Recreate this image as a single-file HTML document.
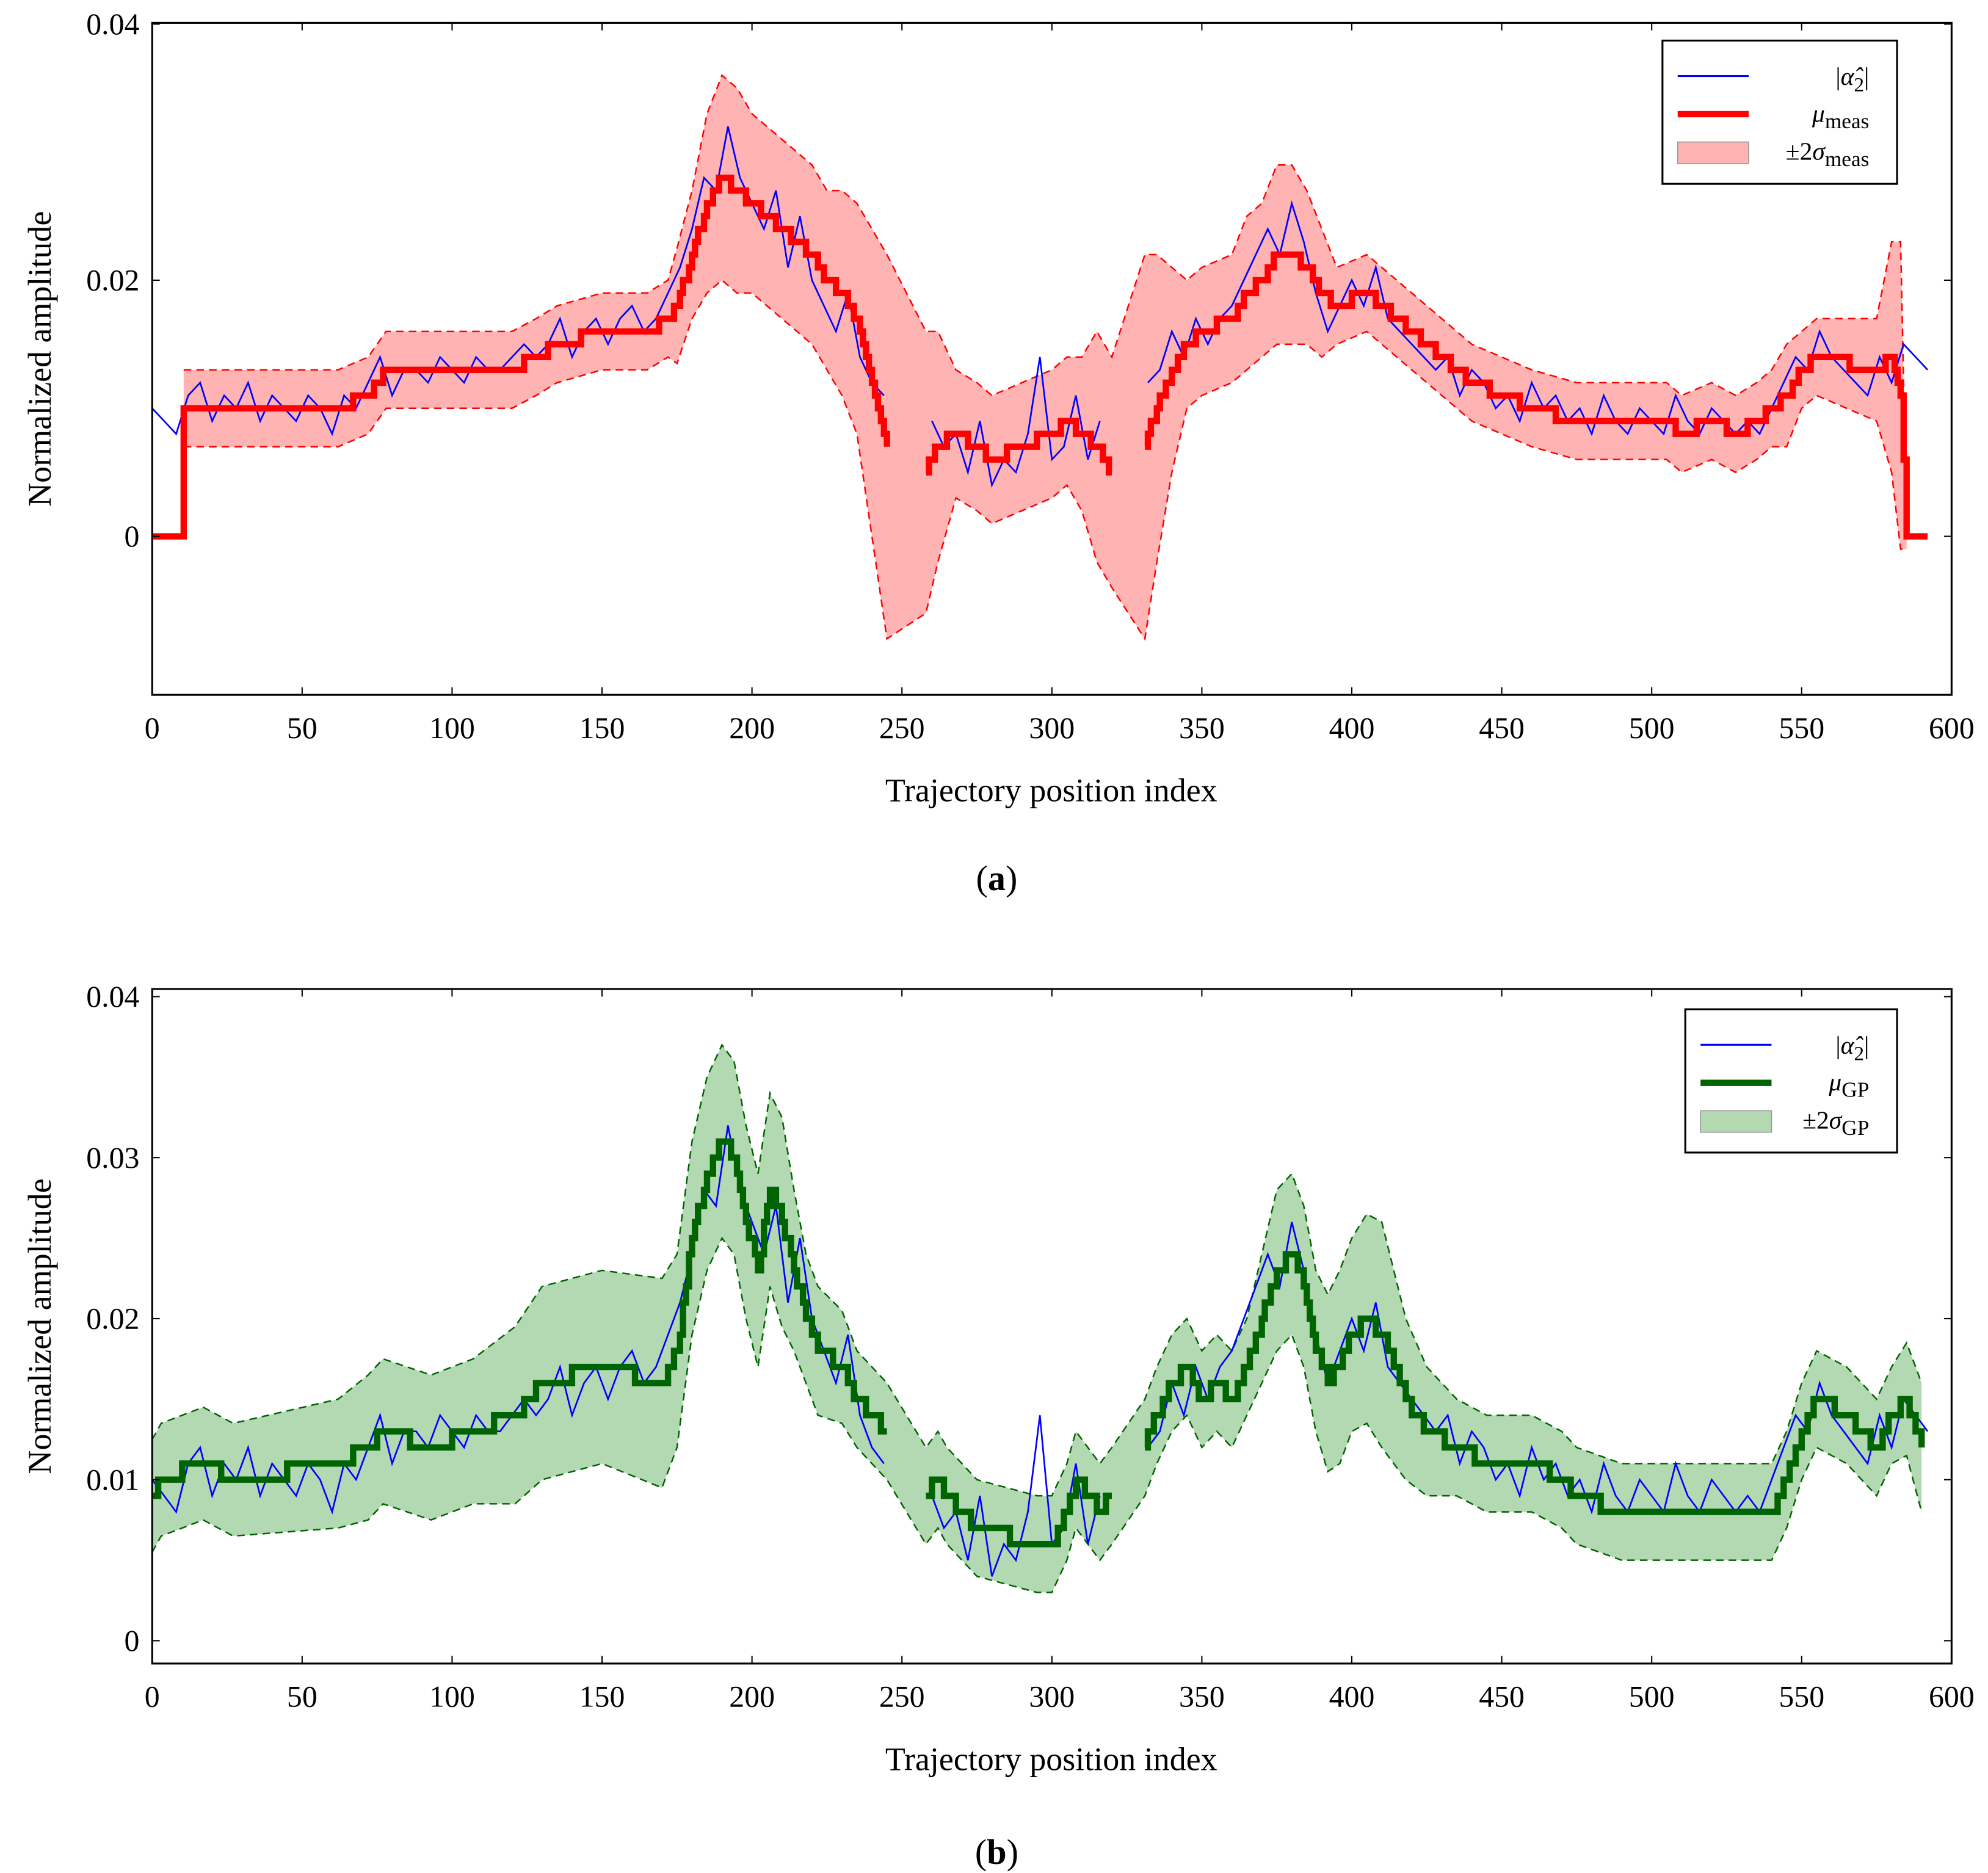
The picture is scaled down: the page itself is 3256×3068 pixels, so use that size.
<!DOCTYPE html>
<html><head><meta charset="utf-8"><style>
html,body{margin:0;padding:0;background:#fff}
svg{display:block}
text{font-family:"Liberation Serif",serif;fill:#000}
</style></head><body>
<svg id="chart" width="3256" height="3068" viewBox="0 0 1567.7 1477.2" xmlns="http://www.w3.org/2000/svg"></svg>
<script>
const xTicks=[0,50,100,150,200,250,300,350,400,450,500,550,600];
const yTicksA=[0,0.02,0.04];
const yTickLabelsA=["0","0.02","0.04"];
const yTicksB=[0,0.01,0.02,0.03,0.04];
const yTickLabelsB=["0","0.01","0.02","0.03","0.04"];
// blue measured signal |alpha_2| (x1e-3), sampled every 4 indices from 0
const blueX=[];for(let i=0;i<=148;i++)blueX.push(i*4);
const blueY=[10,9,8,11,12,9,11,10,12,9,11,10,9,11,10,8,11,10,12,14,11,13,13,12,14,13,12,14,13,13,14,15,14,15,17,14,16,17,15,17,18,16,17,19,21,24,28,27,32,28,26,24,27,21,25,20,18,16,19,14,12,11,null,null,null,9,7,8,5,9,4,6,5,8,14,6,7,11,6,9,null,null,null,12,13,16,14,17,15,17,18,20,22,24,22,26,23,19,16,18,20,18,21,17,16,15,14,13,14,11,13,12,10,11,9,12,10,11,9,10,8,11,9,8,10,9,8,11,9,8,10,9,8,9,8,10,12,14,13,16,14,13,12,11,14,12,15,14,13];
// panel a: mu_meas and 2-sigma half width (x1e-3)
const measX=[0,10,10.5,62,72,75,78,120,128,135,150,165,172,175,180,185,190,195,200,205,210,215,220,225,230,235,240,245,null,258,262,268,275,280,290,300,305,310,315,320,null,331,335,340,345,350,360,365,370,375,380,385,390,395,405,410,415,420,425,430,440,450,460,475,505,510,520,528,535,540,545,550,555,575,580,583,585,592];
const measY=[0,0,10,10,11,12,13,13,14,15,16,16,17,18,22,26,28,27,26,25,24,23,22,20,19,17,12,7,null,5,7,8,7,6,7,8,9,8,7,5,null,7,10,13,15,16,17,19,20,22,22,21,19,18,19,18,17,16,15,14,12,11,10,9,9,8,9,8,9,10,11,13,14,13,14,11,0,0];
const measBand=[null,null,3,3,3,3,3,3,3,3,3,3,3,4.5,5,7,8,8,7,7,7,7,7,7,8,9,12,15,null,11,9,5,5,5,5,5,5,6,9,9,null,15,12,8,5,5,5,6,6,7,7,6,5,3,3,3,3,3,3,3,3,3,3,3,3,3,3,3,3,3,4,3,3,4,9,12,1,null];
// panel b: mu_GP and 2-sigma half width (x1e-3)
const gpX=[0,3,17,27,62,72,77,93,107,121,130,150,170,175,180,185,190,194,198,202,206,210,214,218,222,230,235,240,245,null,258,262,265,270,275,295,300,305,308,312,316,320,null,331,335,340,345,350,355,360,365,370,375,380,384,388,392,396,400,405,410,414,418,425,435,445,460,470,475,490,510,525,540,545,550,555,565,570,575,580,585,590];
const gpY=[9,10,11,10,11,12,13,12,13,14,16,17,16,18,25,29,31,30,26,23,28,26,23,20,18,17,15,14,13,null,9,10,9,8,7,6,6,8,10,9,8,9,null,12,14,16,17,15,16,15,17,20,23,24,22,18,16,17,19,20,19,17,15,13,12,11,11,10,9,8,8,8,8,10,13,15,14,13,12,14,15,12];
const gpBand=[3.5,3.5,3.5,3.5,4,4.5,4.5,4.5,4.5,5.5,6,6,6.5,6,6,6,6,6,6,6,6,6.5,5,4,4,3.5,3,3,3,null,3,3,3,3,3,3,3,3,3,3,3,3,null,3,3,3,3,3,3,3,3,4,5,5,5,5,5.5,6,6,6.5,7,6,5,4,3,3,3,3,3,3,3,3,3,3,3,3,3,3,3,3,3.5,4];

const NS="http://www.w3.org/2000/svg";
const svg=document.getElementById('chart');
function el(tag,attrs,parent){const e=document.createElementNS(NS,tag);for(const k in attrs)e.setAttribute(k,attrs[k]);(parent||svg).appendChild(e);return e;}
function segs(xs,ys){const out=[];let cur=[];for(let i=0;i<xs.length;i++){if(xs[i]===null||ys[i]===null){if(cur.length)out.push(cur);cur=[];}else cur.push([xs[i],ys[i]]);}if(cur.length)out.push(cur);return out;}
// stair rendering: quantize to 0.001 levels per index step
function stair(s){const pts=[];for(let i=0;i<s.length-1;i++){const [x0,y0]=s[i],[x1,y1]=s[i+1];const n=Math.max(1,Math.round(x1-x0));let prev=null;for(let k=0;k<n;k++){const x=x0+(x1-x0)*k/n;const y=Math.round(y0+(y1-y0)*k/n);if(prev!==null&&prev!==y)pts.push([x,prev]);pts.push([x,y]);prev=y;}const yl=Math.round(y1);if(prev!==yl)pts.push([x1,prev]);}pts.push(s[s.length-1]);return pts;}

function panel(cfg){
  const g=el('g',{});
  
  
  const L=120,R=1539,T=cfg.top,B=cfg.bottom;
  const sx=v=>L+(v-0)/600*(R-L);
  const sy=v=>cfg.y0+(cfg.y1-cfg.y0)*(v/cfg.ymax);
  const cp=el('clipPath',{id:'clip'+cfg.id},g);el('rect',{x:L,y:T,width:R-L,height:B-T},cp);
  const plot=el('g',{'clip-path':'url(#clip'+cfg.id+')'},g);
  const bx=[],bu=[],bl=[];
  for(let i=0;i<cfg.mx.length;i++){if(cfg.mx[i]===null||cfg.band[i]===null||cfg.my[i]===null)continue;bx.push(cfg.mx[i]);bu.push(cfg.my[i]+cfg.band[i]);bl.push(cfg.my[i]-cfg.band[i]);}
  let d='';bx.forEach((x,i)=>{d+=(i?'L':'M')+sx(x)+','+sy(bu[i]/1000);});
  for(let i=bx.length-1;i>=0;i--)d+='L'+sx(bx[i])+','+sy(bl[i]/1000);
  const band=el('path',{d:d+'Z',fill:cfg.fill,stroke:'none'},plot);
  
  
  const pu=el('polyline',{points:bx.map((x,i)=>sx(x)+','+sy(bu[i]/1000)).join(' '),fill:'none',stroke:cfg.dash,'stroke-width':1.2,'stroke-dasharray':'6,4'},plot);
  
  
  const pl=el('polyline',{points:bx.map((x,i)=>sx(x)+','+sy(bl[i]/1000)).join(' '),fill:'none',stroke:cfg.dash,'stroke-width':1.2,'stroke-dasharray':'6,4'},plot);
  
  
  segs(blueX,blueY).forEach(s=>{const p=el('polyline',{points:s.map(q=>sx(q[0])+','+sy(q[1]/1000)).join(' '),fill:'none',stroke:'#0000ff','stroke-width':1.3},plot);
    
    });
  segs(cfg.mx,cfg.my).forEach(s=>{const p=el('polyline',{points:stair(s).map(q=>sx(q[0])+','+sy(q[1]/1000)).join(' '),fill:'none',stroke:cfg.line,'stroke-width':5,'stroke-linejoin':'miter'},plot);
    
    });
  el('rect',{x:L,y:T,width:R-L,height:B-T,fill:'none',stroke:'#000','stroke-width':1.5},g);
  xTicks.forEach(v=>{const x=sx(v);el('line',{x1:x,y1:B,x2:x,y2:B-6,stroke:'#000'},g);el('line',{x1:x,y1:T,x2:x,y2:T+6,stroke:'#000'},g);
    const t=el('text',{x:x,y:B+34,'font-size':24,'text-anchor':'middle'},g);t.textContent=v;
    
    });
  cfg.yt.forEach((v,i)=>{const y=sy(v);el('line',{x1:L,y1:y,x2:L+6,y2:y,stroke:'#000'},g);el('line',{x1:R,y1:y,x2:R-6,y2:y,stroke:'#000'},g);
    const t=el('text',{x:L-10,y:y+8,'font-size':24,'text-anchor':'end'},g);t.textContent=cfg.ytl[i];
    
    });
  const xt=el('text',{x:829,y:B+84,'font-size':26,'text-anchor':'middle'},g);xt.textContent='Trajectory position index';
  
  
  const yc=(T+B)/2;
  const yt=el('text',{x:40,y:yc,'font-size':26,'text-anchor':'middle',transform:'rotate(-90 40 '+yc+')'},g);yt.textContent='Normalized amplitude';
  
  
  const cap=el('text',{x:786,y:cfg.cap,'font-size':28,'text-anchor':'middle'},g);
  cap.innerHTML='(<tspan font-weight="bold">'+cfg.id+'</tspan>)';
  
  
  const lg=el('g',{},g);
  
  
  const lx=cfg.lx,ly=cfg.ly;
  el('rect',{x:lx,y:ly,width:1496-lx,height:113,fill:'#fff',stroke:'#000','stroke-width':1.5},lg);
  el('line',{x1:lx+12,y1:ly+28,x2:lx+68,y2:ly+28,stroke:'#0000ff','stroke-width':1.5},lg);
  el('line',{x1:lx+12,y1:ly+58,x2:lx+68,y2:ly+58,stroke:cfg.line,'stroke-width':5},lg);
  el('rect',{x:lx+12,y:ly+80,width:56,height:17,fill:cfg.fill,stroke:'#999','stroke-width':0.8},lg);
  const t1=el('text',{x:1474,y:ly+35,'font-size':20,'text-anchor':'end'},lg);t1.innerHTML='|<tspan font-style="italic">α̂</tspan><tspan font-size="16" dy="5">2</tspan><tspan dy="-5">|</tspan>';
  const t2=el('text',{x:1474,y:ly+64,'font-size':20,'text-anchor':'end'},lg);t2.innerHTML='<tspan font-style="italic">μ</tspan><tspan font-size="17" dy="5">'+cfg.sub+'</tspan>';
  const t3=el('text',{x:1474,y:ly+94,'font-size':20,'text-anchor':'end'},lg);t3.innerHTML='±2<tspan font-style="italic">σ</tspan><tspan font-size="17" dy="5">'+cfg.sub+'</tspan>';
  [t1,t2,t3].forEach(t=>{
    });
}
panel({id:'a',name:'panel-a',top:18,bottom:548,y0:423,y1:19,ymax:0.04,yt:yTicksA,ytl:yTickLabelsA,mx:measX,my:measY,band:measBand,fill:'#ffb3b3',dash:'#ff0000',line:'#ff0000',cap:702,lx:1311,ly:32,sub:'meas'});
panel({id:'b',name:'panel-b',top:780,bottom:1312,y0:1294,y1:786,ymax:0.04,yt:yTicksB,ytl:yTickLabelsB,mx:gpX,my:gpY,band:gpBand,fill:'#b3d9b3',dash:'#006400',line:'#006400',cap:1470,lx:1329,ly:796,sub:'GP'});
</script>
</body></html>
